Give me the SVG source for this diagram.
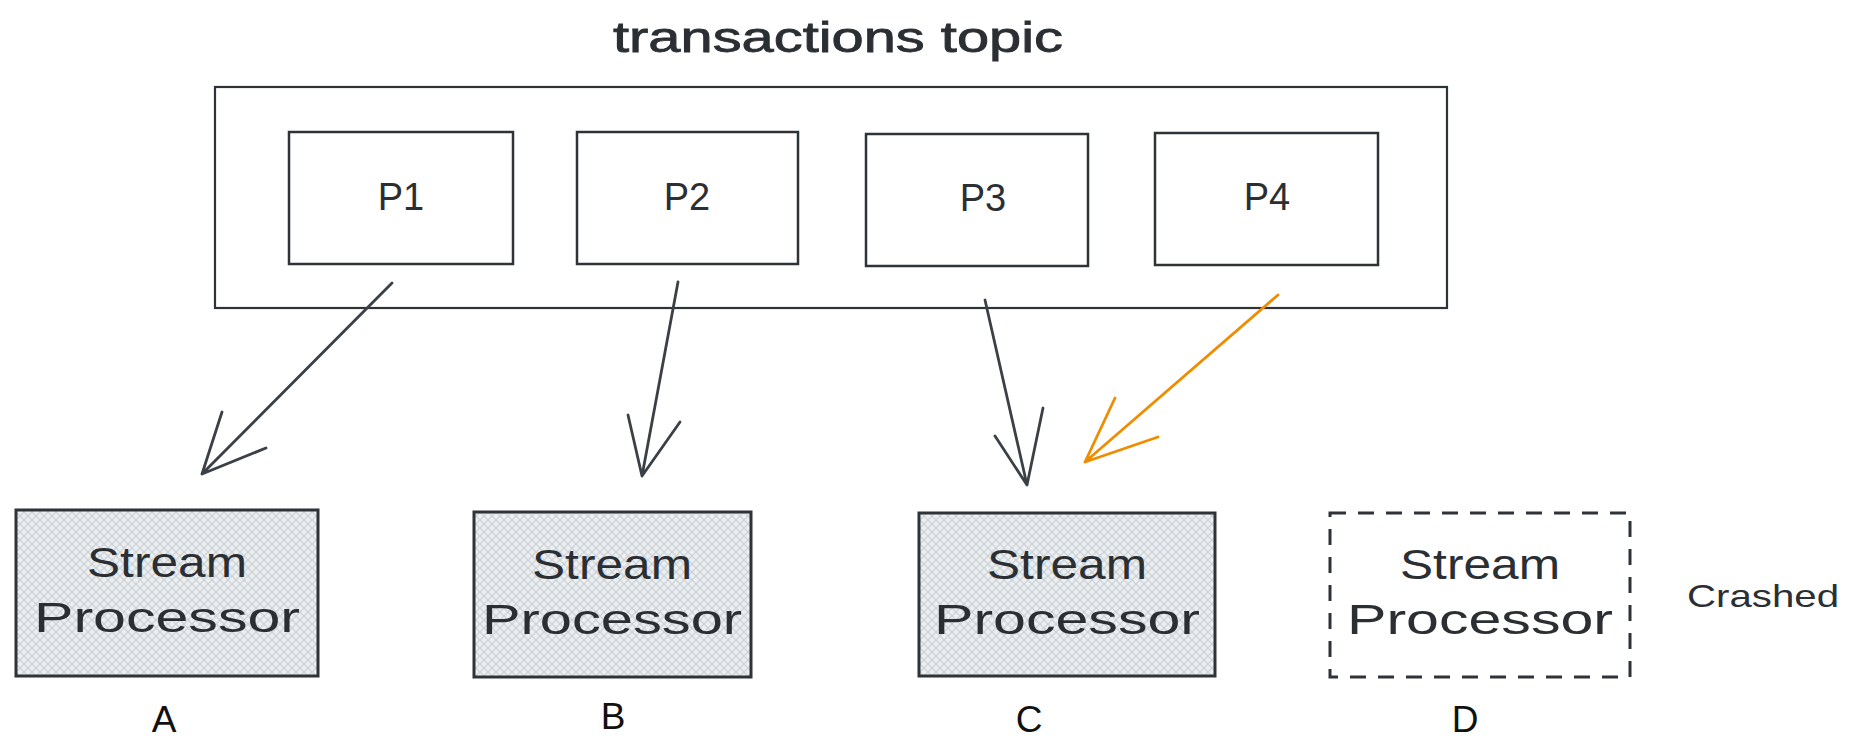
<svg xmlns="http://www.w3.org/2000/svg" width="1863" height="738" viewBox="0 0 1863 738">
<style>
.box{fill:none;stroke:#2e3338;stroke-width:2.5}
.outer{fill:none;stroke:#2e3338;stroke-width:2.2}
.sp{fill:url(#hatch);stroke:#2e3338;stroke-width:3}
.dash{fill:none;stroke:#2e3338;stroke-width:3;stroke-dasharray:16 12}
.hand{font-family:"Liberation Sans","DejaVu Sans",sans-serif;fill:#2b2f33;text-anchor:middle}
.lbl{font-family:"Liberation Sans",Arial,sans-serif;fill:#111;text-anchor:middle;font-size:37px}
.conn{fill:none;stroke:#3a4046;stroke-width:2.8;stroke-linecap:round;stroke-linejoin:round}
.orange{stroke:#f08c00}
</style>
<defs>
<pattern id="hatch" width="8" height="8" patternUnits="userSpaceOnUse">
<rect width="8" height="8" fill="#eceff1"/>
<path d="M0 0L8 8M8 0L0 8" stroke="#cbd0d5" stroke-width="1.2"/>
</pattern>
</defs>
<rect width="1863" height="738" fill="#ffffff"/>
<text x="838" y="52" class="hand" font-size="42" stroke="#2b2f33" stroke-width="0.8" textLength="450" lengthAdjust="spacingAndGlyphs">transactions topic</text>
<g id="topic">
<rect class="outer" x="215" y="87" width="1232" height="221"/>
</g>
<g id="p1"><rect class="box" x="289" y="132" width="224" height="132"/><text x="401" y="210" class="hand" font-size="38">P1</text></g>
<g id="p2"><rect class="box" x="577" y="132" width="221" height="132"/><text x="687" y="210" class="hand" font-size="38">P2</text></g>
<g id="p3"><rect class="box" x="866" y="134" width="222" height="132"/><text x="983" y="211" class="hand" font-size="38">P3</text></g>
<g id="p4"><rect class="box" x="1155" y="133" width="223" height="132"/><text x="1267" y="210" class="hand" font-size="38">P4</text></g>
<g id="spA"><rect class="sp" x="16" y="510" width="302" height="166"/>
<text x="167" y="577" class="hand" font-size="42" textLength="160" lengthAdjust="spacingAndGlyphs">Stream</text>
<text x="167" y="632" class="hand" font-size="42" textLength="266" lengthAdjust="spacingAndGlyphs">Processor</text></g>
<g id="spB"><rect class="sp" x="474" y="512" width="277" height="165"/>
<text x="612" y="579" class="hand" font-size="42" textLength="160" lengthAdjust="spacingAndGlyphs">Stream</text>
<text x="612" y="634" class="hand" font-size="42" textLength="260" lengthAdjust="spacingAndGlyphs">Processor</text></g>
<g id="spC"><rect class="sp" x="919" y="513" width="296" height="163"/>
<text x="1067" y="579" class="hand" font-size="42" textLength="160" lengthAdjust="spacingAndGlyphs">Stream</text>
<text x="1067" y="634" class="hand" font-size="42" textLength="266" lengthAdjust="spacingAndGlyphs">Processor</text></g>
<g id="spD"><rect class="dash" x="1330" y="513" width="300" height="164"/>
<text x="1480" y="579" class="hand" font-size="42" textLength="160" lengthAdjust="spacingAndGlyphs">Stream</text>
<text x="1480" y="634" class="hand" font-size="42" textLength="266" lengthAdjust="spacingAndGlyphs">Processor</text></g>
<g id="labels">
<text x="164" y="732" class="lbl">A</text>
<text x="613" y="729" class="lbl">B</text>
<text x="1029" y="732" class="lbl">C</text>
<text x="1465" y="732" class="lbl">D</text>
<text x="1763" y="607" class="hand" font-size="32" textLength="152" lengthAdjust="spacingAndGlyphs">Crashed</text>
</g>
<g id="connectors">
<path class="conn" d="M392 283L202 474M266 448L202 474L222 412"/>
<path class="conn" d="M678 282L642 476M680 422L642 476L628 415"/>
<path class="conn" d="M985 300L1027 485M1043 408L1027 485L995 436"/>
<path class="conn orange" d="M1278 295L1085 462M1158 437L1085 462L1115 398"/>
</g>
</svg>
